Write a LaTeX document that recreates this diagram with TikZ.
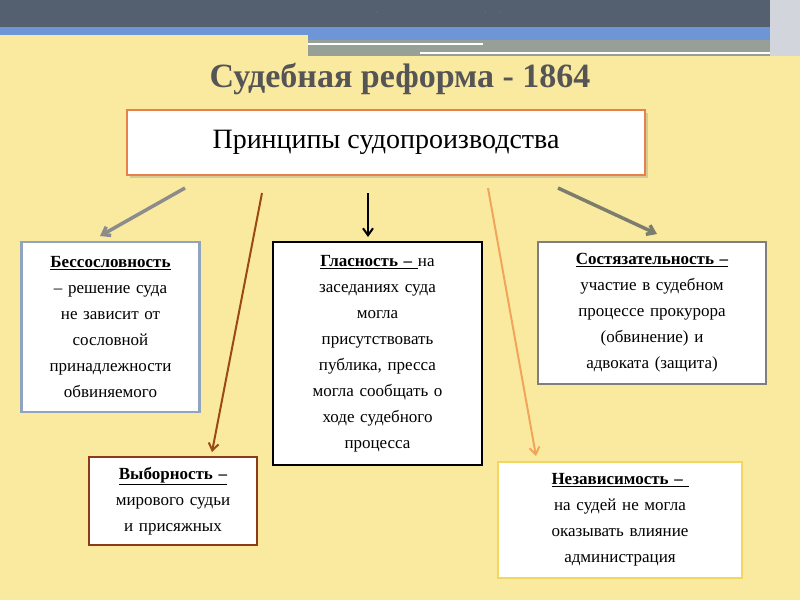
\documentclass[tikz,border=0pt]{standalone}
\usepackage{fontspec}
\setmainfont{Liberation Serif}
\usetikzlibrary{arrows.meta,shadows}
\definecolor{bg}{RGB}{250,234,160}
\definecolor{barc}{RGB}{84,95,112}
\definecolor{bluebar}{RGB}{110,150,215}
\definecolor{graybar}{RGB}{150,160,150}
\definecolor{lightgr}{RGB}{210,214,220}
\definecolor{bannertext}{RGB}{100,108,120}
\definecolor{titlec}{RGB}{85,85,85}
\definecolor{mainc}{RGB}{232,128,74}
\definecolor{b1c}{RGB}{143,165,191}
\definecolor{b3c}{RGB}{127,127,127}
\definecolor{b4c}{RGB}{139,58,26}
\definecolor{b5c}{RGB}{240,216,96}
\definecolor{a1c}{RGB}{140,140,140}
\definecolor{a2c}{RGB}{155,74,16}
\definecolor{a4c}{RGB}{240,165,90}
\definecolor{a5c}{RGB}{125,125,110}
\begin{document}
\begin{tikzpicture}[x=1pt,y=-1pt,
  box/.style={draw,fill=white,line width=2.5pt,align=center,inner sep=4pt,font=\fontsize{17}{26}\selectfont},
  arr/.style={line width=2pt,-{Straight Barb[length=7pt,width=10pt]}}]
\useasboundingbox (0,0) rectangle (800,600);
\fill[bg] (0,0) rectangle (800,600);
% top banner
\fill[barc] (0,0) rectangle (790,27);
\fill[bluebar] (0,27) rectangle (770,35);
\fill[bluebar] (308,35) rectangle (770,40);
\fill[graybar] (308,40) rectangle (770,56);
\draw[white,line width=2pt] (308,44) -- (483,44);
\draw[white,line width=2pt] (420,53) -- (770,53);
\fill[lightgr] (770,0) rectangle (800,56);
\node[text=bannertext,font=\fontsize{17}{20}\selectfont\sffamily] (banner) at (400,13) {Земское собрание в провинции. Гравюра по рисунку К. А. Трутовского};
% title
\node[font=\fontsize{34}{40}\selectfont\bfseries,text=titlec] (title) at (400,79) {Судебная реформа - 1864};
\node[box,draw=mainc,minimum width=518,minimum height=65,font=\fontsize{28}{32}\selectfont,drop shadow={opacity=0.3,shadow xshift=3pt,shadow yshift=-3pt}] (main) at (386,142.5) {Принципы судопроизводства};
% boxes
\node[box,draw=b1c,minimum width=177,minimum height=170,text width=170] (b1) at (110.5,327) {\textbf{\underline{Бессословность}}\\– решение суда\\не зависит от\\сословной\\принадлежности\\обвиняемого};
\node[box,draw=black,minimum width=209,minimum height=223,text width=200] (b2) at (377.5,353.5) {\underline{\textbf{Гласность –} }на\\заседаниях суда\\могла\\присутствовать\\публика, пресса\\могла сообщать о\\ходе судебного\\процесса};
\node[box,draw=b3c,minimum width=228,minimum height=142,text width=220] (b3) at (652,313) {\textbf{\underline{Состязательность –}}\\участие в судебном\\процессе прокурора\\(обвинение) и\\адвоката (защита)};
\node[box,draw=b4c,minimum width=164,minimum height=88,text width=160] (b4) at (173,501) {\textbf{\underline{Выборность –}}\\мирового судьи\\и присяжных};
\node[box,draw=b5c,line width=1.5pt,minimum width=242,minimum height=116,text width=236] (b5) at (620,520) {\textbf{\underline{Независимость – }}\\на судей не могла\\оказывать влияние\\администрация};
% arrows
\coordinate (s1) at (185,188); \coordinate (e1) at (100,236);
\coordinate (s2) at (262,193); \coordinate (e2) at (212,452);
\coordinate (s3) at (368,193); \coordinate (e3) at (368,237);
\coordinate (s4) at (488,188); \coordinate (e4) at (536,456);
\coordinate (s5) at (558,188); \coordinate (e5) at (657,234);
\draw[arr,line width=3.5pt,a1c] (s1) -- (e1);
\draw[arr,a2c] (s2) -- (e2);
\draw[arr,black] (s3) -- (e3);
\draw[arr,a4c] (s4) -- (e4);
\draw[arr,line width=3.5pt,a5c] (s5) -- (e5);
\end{tikzpicture}
\end{document}
